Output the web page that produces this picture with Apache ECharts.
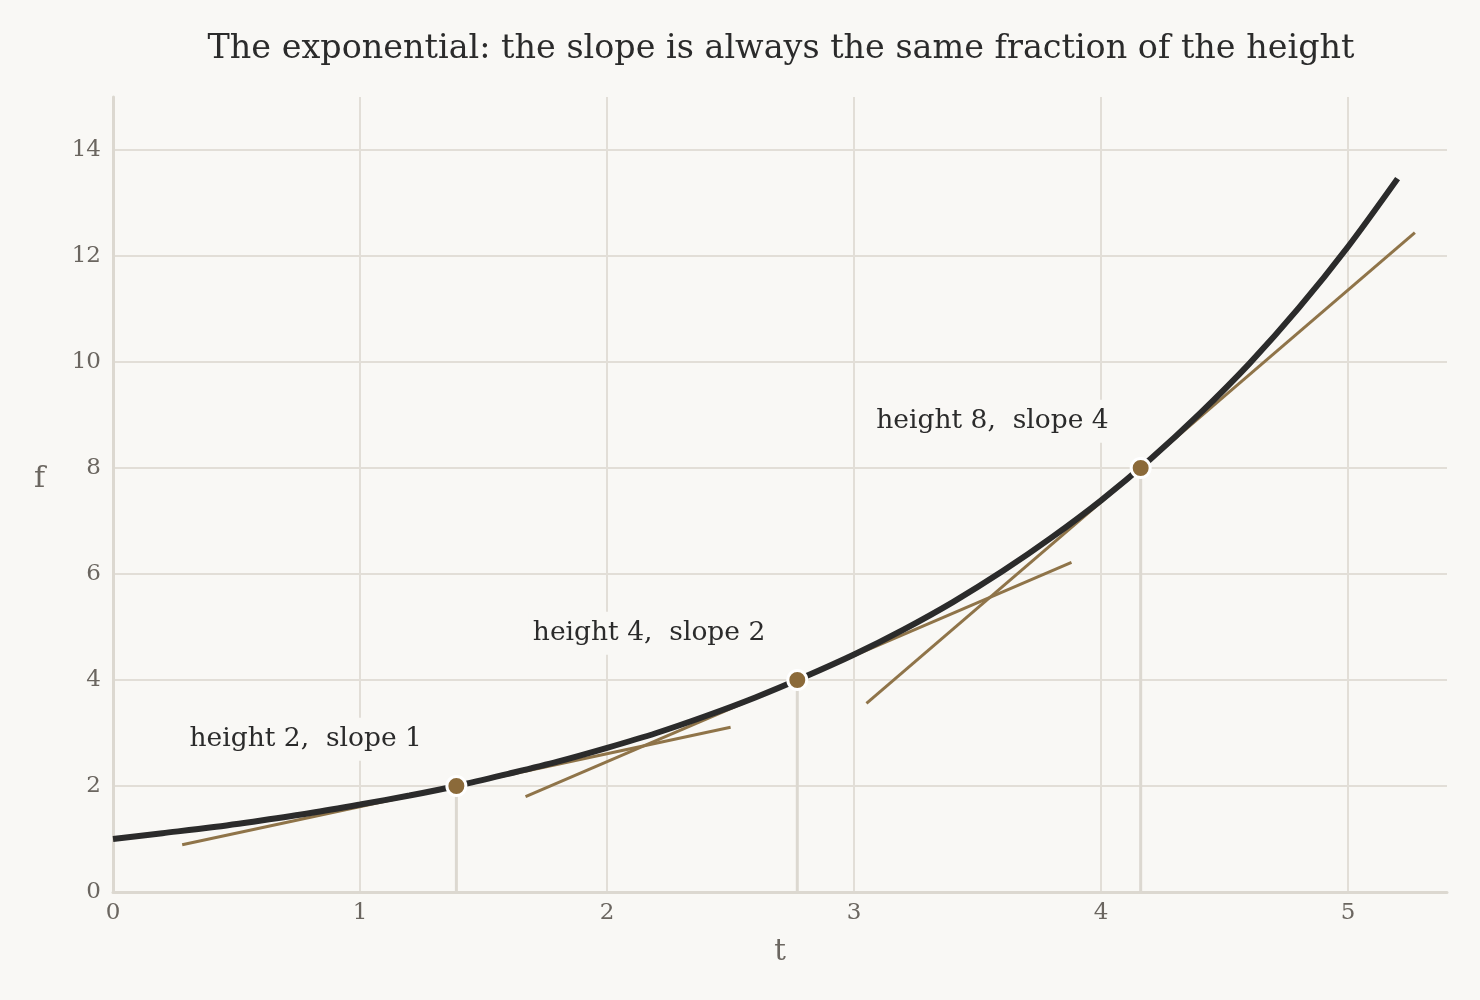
<!DOCTYPE html>
<html>
<head>
<meta charset="utf-8">
<title>exponential slope</title>
<script src="https://cdn.jsdelivr.net/npm/echarts@6/dist/echarts.min.js"></script>
<style>
  html, body { margin: 0; padding: 0; background: #f9f8f5; }
  #chart { width: 1480px; height: 1000px; }
</style>
</head>
<body>
<div id="chart"></div>
<script>
// curve f(t)
var curveT = [0, 0.2, 0.4, 0.6, 0.8, 1.0, 1.2, 1.4, 1.6, 1.8, 2.0, 2.2, 2.4, 2.6,
  2.8, 3.0, 3.2, 3.4, 3.6, 3.8, 4.0, 4.2, 4.4, 4.6, 4.8, 5.0, 5.2];
var curveF = [1.00, 1.11, 1.22, 1.35, 1.49, 1.65, 1.82, 2.01, 2.23, 2.46, 2.72, 3.00, 3.32, 3.67,
  4.06, 4.48, 4.95, 5.47, 6.05, 6.69, 7.39, 8.17, 9.03, 9.97, 11.02, 12.18, 13.46];

// marked points
var pointT = [1.39, 2.77, 4.16];
var pointF = [2, 4, 8];
var pointText = ['height 2,  slope 1', 'height 4,  slope 2', 'height 8,  slope 4'];
var labelT = [0.78, 2.17, 3.56];
var labelF = [2.88, 4.88, 8.88];

// tangent segments: [t0, f0, t1, f1]
var tangents = [
  [0.28, 0.89, 2.50, 3.11],
  [1.67, 1.80, 3.88, 6.22],
  [3.05, 3.56, 5.27, 12.44]
];

var xTicks = [0, 1, 2, 3, 4, 5];
var yTicks = [0, 2, 4, 6, 8, 10, 12, 14];

var chart = echarts.init(document.getElementById('chart'));

var FONT = '"DejaVu Serif", serif';
var gridCol = '#e2ded7';
var ink = '#2b2b2b';
var brown = '#8f7449';

var series = [];

// drop lines
for (var i = 0; i < pointT.length; i++) {
  series.push({
    type: 'line',
    data: [[pointT[i], 0], [pointT[i], pointF[i]]],
    symbol: 'none',
    silent: true,
    lineStyle: { color: '#dcd8d0', width: 3 },
    z: 1
  });
}

// tangents
tangents.forEach(function (s) {
  series.push({
    type: 'line',
    data: [[s[0], s[1]], [s[2], s[3]]],
    symbol: 'none',
    silent: true,
    lineStyle: { color: brown, width: 3 },
    z: 2
  });
});

series.push({
  type: 'line',
  data: curveT.map(function (t, i) { return [t, curveF[i]]; }),
  symbol: 'none',
  smooth: 0.3,
  lineStyle: { color: ink, width: 6 },
  z: 3
});

series.push({
  type: 'scatter',
  data: pointT.map(function (t, i) { return [t, pointF[i]]; }),
  symbolSize: 19,
  itemStyle: { color: '#8b6a3a', borderColor: '#ffffff', borderWidth: 3, opacity: 1 },
  z: 4
});

series.push({
  type: 'scatter',
  data: labelT.map(function (t, i) { return { value: [t, labelF[i]], name: pointText[i] }; }),
  symbolSize: 0,
  itemStyle: { opacity: 1 },
  label: {
    show: true,
    position: 'inside',
    formatter: '{b}',
    fontFamily: FONT,
    fontSize: 26.5,
    color: ink,
    textBorderWidth: 0,
    backgroundColor: '#f9f8f5',
    padding: [8, 4]
  },
  z: 5
});

chart.setOption({
  backgroundColor: '#f9f8f5',
  animation: false,
  title: {
    text: 'The exponential: the slope is always the same fraction of the height',
    left: 776,
    textAlign: 'center',
    top: 28,
    textStyle: { fontFamily: FONT, fontSize: 33.4, fontWeight: 'normal', color: ink }
  },
  grid: { left: 113, right: 33, top: 97, bottom: 108, containLabel: false },
  xAxis: {
    type: 'value',
    min: 0, max: 5.4,
    name: 't',
    nameLocation: 'middle',
    nameGap: 46,
    nameTextStyle: { fontFamily: FONT, fontSize: 29, color: '#6b6660' },
    axisLine: { show: true, lineStyle: { color: '#dcd8d0', width: 3 } },
    axisTick: { show: false, customValues: xTicks },
    axisLabel: { customValues: xTicks, fontFamily: FONT, fontSize: 23, color: '#6b6660', margin: 10 },
    splitLine: { show: true, lineStyle: { color: gridCol, width: 2 } }
  },
  yAxis: {
    type: 'value',
    min: 0, max: 15,
    name: 'f',
    nameLocation: 'middle',
    nameRotate: 0,
    nameGap: 68,
    nameTextStyle: { fontFamily: FONT, fontSize: 30, color: '#6b6660', verticalAlign: 'bottom' },
    axisLine: { show: true, lineStyle: { color: '#dcd8d0', width: 3 } },
    axisTick: { show: false, customValues: yTicks },
    axisLabel: { customValues: yTicks, fontFamily: FONT, fontSize: 23, color: '#6b6660', margin: 12 },
    splitLine: { show: true, lineStyle: { color: gridCol, width: 2 } }
  },
  series: series
});
</script>
</body>
</html>
